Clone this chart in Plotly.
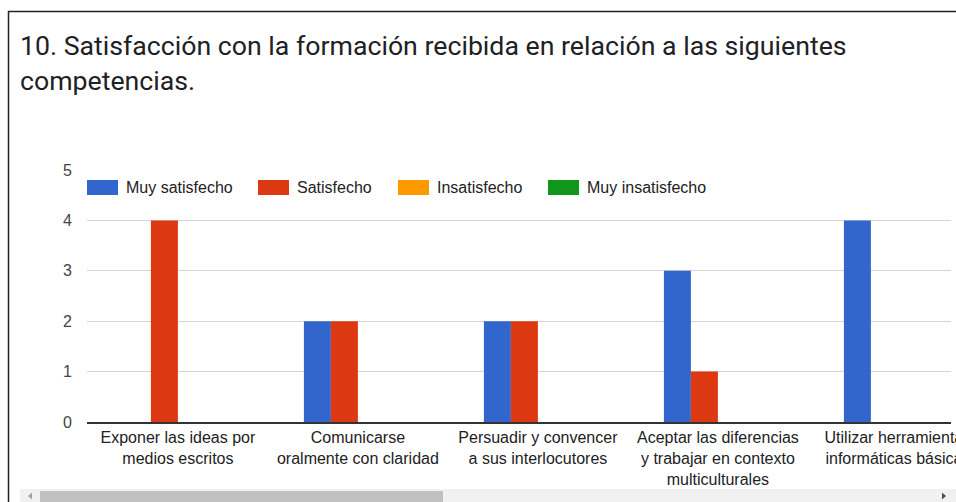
import plotly.graph_objects as go

# datos de la pregunta 10
categorias = [
    "Exponer las ideas por<br>medios escritos",
    "Comunicarse<br>oralmente con claridad",
    "Persuadir y convencer<br>a sus interlocutores",
    "Aceptar las diferencias<br>y trabajar en contexto<br>multiculturales",
    "Utilizar herramientas<br>informáticas básicas",
]
series = ["Muy satisfecho", "Satisfecho", "Insatisfecho", "Muy insatisfecho"]
muy_satisfecho = [0, 2, 2, 3, 4]
satisfecho = [4, 2, 2, 1, 0]
insatisfecho = [0, 0, 0, 0, 0]
muy_insatisfecho = [0, 0, 0, 0, 0]
colores = ["#3366cc", "#dc3912", "#ff9900", "#109618"]

W, H = 956, 502
L, R, T, B = 87, 5, 170, 80
PW, PH = W - L - R, H - T - B


def px(x):
    # coordenada x en pixeles -> paper
    return (x - L) / PW


def py(y):
    # coordenada y en pixeles -> paper
    return (H - B - y) / PH


fig = go.Figure()
for nombre, valores, color in zip(series, [muy_satisfecho, satisfecho, insatisfecho, muy_insatisfecho], colores):
    fig.add_trace(go.Bar(x=list(range(len(categorias))), y=valores, name=nombre,
                         marker=dict(color=color, line=dict(width=0)), hoverinfo="skip"))

fig.update_layout(
    width=W, height=H, autosize=False,
    margin=dict(l=L, r=R, t=T, b=B),
    paper_bgcolor="white", plot_bgcolor="white",
    barmode="group", bargap=0.4, bargroupgap=0.0,
    showlegend=False,
    font=dict(family="Liberation Sans, Arial", size=16, color="#222"),
)
fig.update_xaxes(
    range=[-0.505, 4.295], tickvals=list(range(len(categorias))), ticktext=categorias,
    showgrid=False, showline=True, linecolor="#333", linewidth=1.5, ticks="",
    ticklabeloverflow="allow", automargin=False,
    tickfont=dict(size=16, color="#222"), fixedrange=True,
)
fig.update_yaxes(
    range=[0, 5], dtick=1, showgrid=True, gridcolor="#d4d4d4", gridwidth=1,
    zeroline=False, showline=False, ticks="", ticklabelstandoff=14, automargin=False,
    tickfont=dict(size=16, color="#444"), fixedrange=True,
)

# leyenda manual estilo Google Charts
leyenda_x = [87, 258, 398, 548]
for i, nombre in enumerate(series):
    x0 = leyenda_x[i]
    fig.add_shape(type="rect", xref="paper", yref="paper",
                  x0=px(x0), x1=px(x0 + 31), y0=py(195), y1=py(180),
                  fillcolor=colores[i], line=dict(width=0))
    fig.add_annotation(xref="paper", yref="paper", x=px(x0 + 37), y=py(187.5),
                       text=nombre, showarrow=False, xanchor="left", yanchor="middle",
                       font=dict(size=16, color="#222"))

# título
fig.add_annotation(xref="paper", yref="paper", x=px(18), y=py(46),
                   text="10. Satisfacción con la formación recibida en relación a las siguientes",
                   showarrow=False, xanchor="left", yanchor="middle",
                   font=dict(family="Roboto", size=26.7, color="#202124"))
fig.add_annotation(xref="paper", yref="paper", x=px(18), y=py(81),
                   text="competencias.",
                   showarrow=False, xanchor="left", yanchor="middle",
                   font=dict(family="Roboto", size=26.7, color="#202124"))

# marco
fig.add_shape(type="line", xref="paper", yref="paper", x0=px(8), x1=px(956), y0=py(11.5), y1=py(11.5),
              line=dict(color="#222", width=1.5))
fig.add_shape(type="line", xref="paper", yref="paper", x0=px(8.5), x1=px(8.5), y0=py(11), y1=py(502),
              line=dict(color="#222", width=1.5))

# barra de desplazamiento
fig.add_shape(type="rect", xref="paper", yref="paper", x0=px(20), x1=px(956), y0=py(502), y1=py(489),
              fillcolor="#f1f1f1", line=dict(width=0))
fig.add_shape(type="rect", xref="paper", yref="paper", x0=px(40), x1=px(443), y0=py(502), y1=py(491),
              fillcolor="#c1c1c1", line=dict(width=0))
fig.add_shape(type="path", xref="paper", yref="paper",
              path=f"M {px(28)} {py(496)} L {px(32)} {py(492.5)} L {px(32)} {py(499.5)} Z",
              fillcolor="#a3a3a3", line=dict(width=0))
fig.add_shape(type="path", xref="paper", yref="paper",
              path=f"M {px(946)} {py(496)} L {px(942)} {py(492.5)} L {px(942)} {py(499.5)} Z",
              fillcolor="#505050", line=dict(width=0))

# sin margen del body para que la figura ocupe la ventana completa
fig.write_html("out.html", config={"displayModeBar": False, "responsive": False},
               post_script="document.body.style.margin='0';document.body.style.overflow='hidden';")
